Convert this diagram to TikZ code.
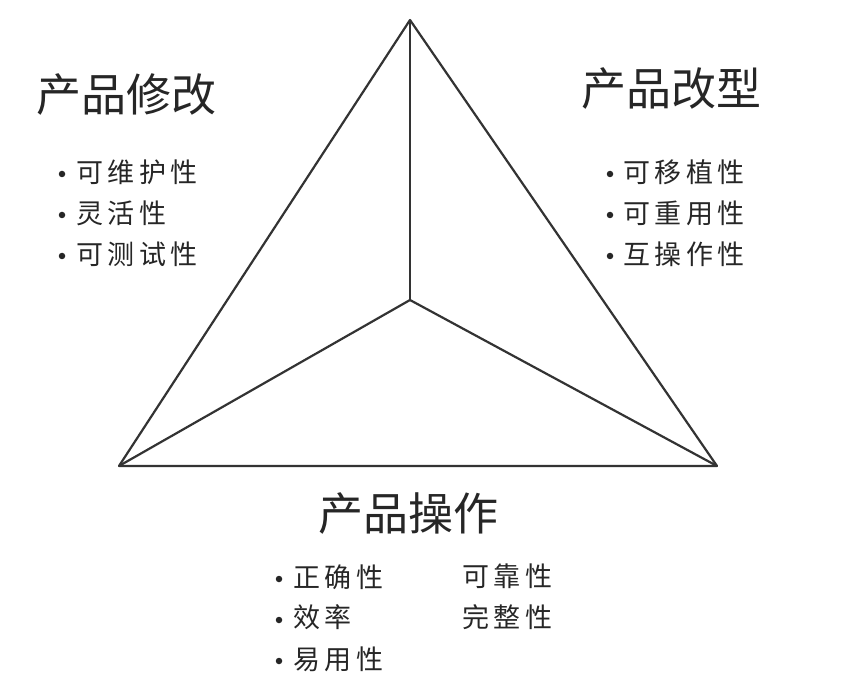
\documentclass[tikz,border=0pt]{standalone}
\usepackage{fontspec}
\newfontfamily\cjk{Noto Sans CJK SC}
\begin{document}
\begin{tikzpicture}[x=1pt,y=-1pt,
  edge/.style={line width=2.2pt,draw=black!80,line join=round},
  title/.style={anchor=west,inner sep=0pt,font=\cjk\fontsize{45}{48}\selectfont,text=black!85},
  item/.style={anchor=west,inner sep=0pt,font=\cjk\fontsize{27}{30}\selectfont,text=black!85},
  dotb/.style={circle,fill=black!85,inner sep=0pt,minimum size=6.5pt}]
\useasboundingbox (0,0) rectangle (856,676);
\coordinate (T) at (410,20);
\coordinate (L) at (119,466);
\coordinate (R) at (717,466);
\coordinate (C) at (410,300);
\draw[edge] (T) -- (L) -- (R) -- cycle;
\draw[edge] (T) -- (C);
\draw[edge] (L) -- (C);
\draw[edge] (R) -- (C);
% titles
\node[title] (t1) at (36,95) {产品修改};
\node[title] (t2) at (581,89) {产品改型};
\node[title] (t3) at (318,514) {产品操作};
% left list
\node[dotb] (b1) at (62,174) {};
\node[item] (l1) at (76,172) {可\,维\,护\,性};
\node[dotb] (b2) at (62,215) {};
\node[item] (l2) at (76,213) {灵\,活\,性};
\node[dotb] (b3) at (62,256) {};
\node[item] (l3) at (76,254) {可\,测\,试\,性};
% right list
\node[dotb] (b4) at (610,174) {};
\node[item] (r1) at (623,172) {可\,移\,植\,性};
\node[dotb] (b5) at (610,215) {};
\node[item] (r2) at (623,213) {可\,重\,用\,性};
\node[dotb] (b6) at (610,256) {};
\node[item] (r3) at (623,254) {互\,操\,作\,性};
% bottom list
\node[dotb] (b7) at (279,579) {};
\node[item] (o1) at (293,577) {正\,确\,性};
\node[dotb] (b8) at (279,620) {};
\node[item] (o2) at (293,617) {效\,率};
\node[dotb] (b9) at (279,661) {};
\node[item] (o3) at (293,659) {易\,用\,性};
\node[item] (o4) at (462,576) {可\,靠\,性};
\node[item] (o5) at (462,617) {完\,整\,性};
\end{tikzpicture}
\end{document}
